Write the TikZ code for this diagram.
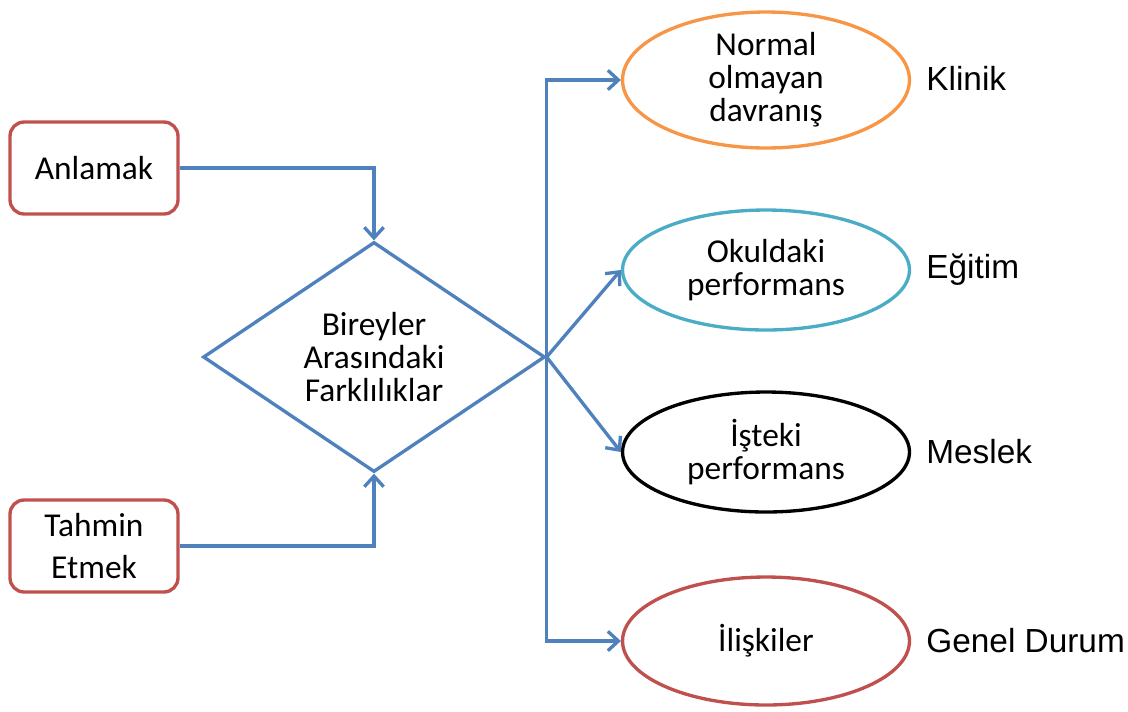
\documentclass[tikz,border=0pt]{standalone}
\usepackage{fontspec}
\setmainfont{Carlito}
\newfontfamily\arialfont{Liberation Sans}
\usepackage{tikz}
\usetikzlibrary{shapes.geometric}
\usetikzlibrary{arrows.meta}

\definecolor{lineblue}{RGB}{79,129,189}
\definecolor{boxred}{RGB}{192,80,77}
\definecolor{ovalorange}{RGB}{247,150,70}
\definecolor{ovalteal}{RGB}{75,172,198}

\tikzset{
	startbox/.style={draw=boxred, line width=1.9pt, rounded corners=8pt, minimum width=3.36cm, minimum height=1.84cm, align=center, font=\fontsize{19}{24}\selectfont},
	oval/.style={ellipse, line width=1.9pt, minimum width=5.74cm, minimum height=2.4cm, inner sep=0pt, align=center, font=\fontsize{19}{18.7}\selectfont},
	sidelabel/.style={anchor=west, inner sep=0pt, font=\arialfont\fontsize{19}{19}\selectfont},
	flow/.style={draw=lineblue, line width=1.9pt, -{Straight Barb[length=6pt, width=11pt]}}
}

\begin{document}
\begin{tikzpicture}[x=0.02cm, y=-0.02cm]
			\useasboundingbox (0, 0) rectangle (1128, 711);

			\node[startbox] (anl) at (94, 168) {Anlamak};
			\node[startbox] (tah) at (94, 546) {Tahmin\\Etmek};

			\node[diamond, draw=lineblue, line width=1.9pt, minimum width=6.84cm, minimum height=4.6cm, inner sep=0pt, align=center, font=\fontsize{19}{18.7}\selectfont] (dia) at (374, 357) {Bireyler\\Arasındaki\\Farklılıklar};

			\node[oval, draw=ovalorange, minimum height=2.72cm] (klin) at (766, 80) {Normal\\olmayan\\davranış};
			\node[oval, draw=ovalteal] (okul) at (766, 270) {Okuldaki\\performans};
			\node[oval, draw=black] (ist) at (766, 452) {İşteki\\performans};
			\node[oval, draw=boxred, minimum height=2.56cm] (ilis) at (766, 641) {İlişkiler};

			\node[sidelabel] (lklin) at (926, 78) {Klinik};
			\node[sidelabel] (lokul) at (926, 270) {Eğitim};
			\node[sidelabel] (list) at (926, 452) {Meslek};
			\node[sidelabel] (lilis) at (926, 641) {Genel Durum};

			\coordinate (hub) at (dia.east);

			\draw[flow] (anl.east) -| (dia.north);
			\draw[flow] (tah.east) -| (dia.south);

			\draw[flow] (hub) |- (klin.west);
			\draw[flow] (hub) -- (okul.west);
			\draw[flow] (hub) -- (ist.west);
			\draw[flow] (hub) |- (ilis.west);
		\end{tikzpicture}
\end{document}
